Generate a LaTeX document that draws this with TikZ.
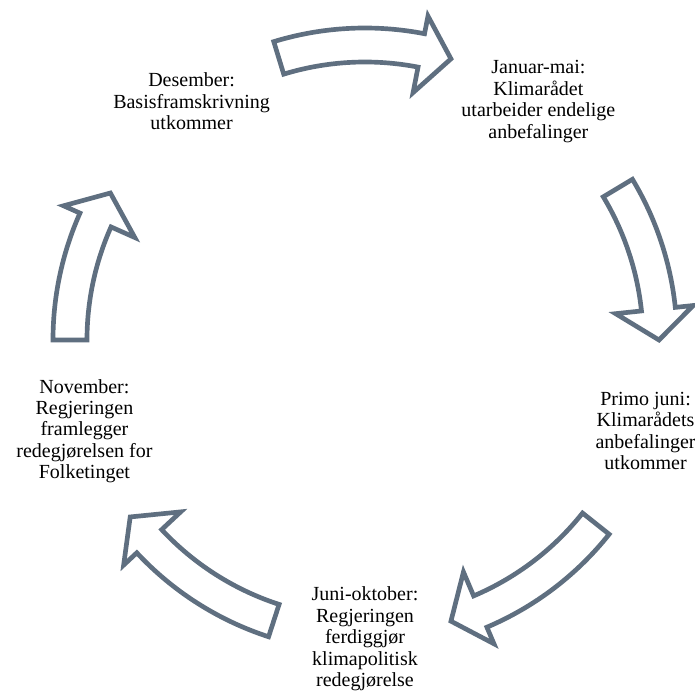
\documentclass[tikz,border=0pt]{standalone}
\usepackage{fontspec}
\setmainfont{Liberation Serif}
\definecolor{arrowgray}{RGB}{95,111,128}
\begin{document}
\begin{tikzpicture}[x=0.75pt,y=0.75pt,
		blockarrow/.style={draw=arrowgray, line width=3.5pt, fill=white},
		stage/.style={align=center, inner sep=0pt, font=\fontsize{15}{16.1}\selectfont}]
		\useasboundingbox (-365,-350) rectangle (330,340);

		% Stages of the year
		\node[stage] (desember) at (126:295) {Desember:\\Basisframskrivning\\utkommer};
		\node[stage] (januar) at (54:295) {Januar-mai:\\Klimarådet\\utarbeider endelige\\anbefalinger};
		\node[stage] (primo) at (-18:295) {Primo juni:\\Klimarådets\\anbefalinger\\utkommer};
		\node[stage] (juni) at (-90:299) {Juni-oktober:\\Regjeringen\\ferdiggjør\\klimapolitisk\\redegjørelse};
		\node[stage] (november) at (198:295) {November:\\Regjeringen\\framlegger\\redegjørelsen for\\Folketinget};

		% Arrow: desember -> januar
		\draw[blockarrow] (107:312) arc[start angle=107, end angle=79, radius=312] -- (79:330) -- (73:294)
			-- (79:252) -- (79:278) arc[start angle=79, end angle=107, radius=278] -- cycle;

		% Arrow: januar -> primo
		\draw[blockarrow] (31:312) arc[start angle=31, end angle=6, radius=312] -- (6:330) -- (0:294)
			-- (6:252) -- (6:278) arc[start angle=6, end angle=31, radius=278] -- cycle;

		% Arrow: primo -> juni
		\draw[blockarrow] (-38.5:312) arc[start angle=-38.5, end angle=-67, radius=312] -- (-67:330) -- (-73:294)
			-- (-67:252) -- (-67:278) arc[start angle=-67, end angle=-38.5, radius=278] -- cycle;

		% Arrow: juni -> november
		\draw[blockarrow] (-108:312) arc[start angle=-108, end angle=-137, radius=312] -- (-137:330) -- (-143:294)
			-- (-137:252) -- (-137:278) arc[start angle=-137, end angle=-108, radius=278] -- cycle;

		% Arrow: november -> desember
		\draw[blockarrow] (180:312) arc[start angle=180, end angle=156, radius=312] -- (156:330) -- (150:294)
			-- (156:252) -- (156:278) arc[start angle=156, end angle=180, radius=278] -- cycle;
	\end{tikzpicture}
\end{document}
